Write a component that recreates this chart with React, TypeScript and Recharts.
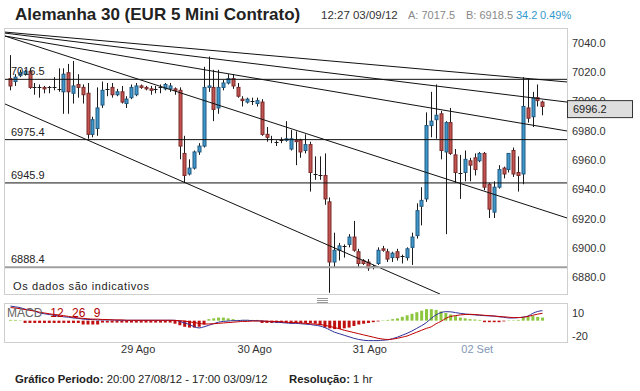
import React from "react";
import { Bar, Cell, ComposedChart, Line, ReferenceLine, XAxis, YAxis } from "recharts";

const FONT = "'Liberation Sans', Arial, sans-serif";

// hourly candles, 20:00 27/08/12 .. 17:00 03/09/12
const opens = [
  7017, 7015, 7019, 7020, 7022, 7011, 7011, 7011, 7011, 7011,
  7010, 7008, 7021, 7007, 7013, 7011, 7007, 6979, 6983, 6999,
  7010, 7011, 7006, 7008, 7000, 7004, 7006, 7012, 7011, 7010,
  7010, 7011, 7010, 7010, 7010, 7009, 6966, 6952, 6956, 6967,
  6971, 7011, 7011, 6997, 7011, 7014, 7017, 7011, 7003, 7001,
  7002, 7000, 7001, 6979, 6976, 6974, 6975, 6975, 6969, 6975,
  6975, 6968, 6972, 6952, 6951, 6951, 6933, 6892, 6900, 6903,
  6904, 6909, 6899, 6893, 6892, 6889, 6891, 6901, 6899, 6895,
  6899, 6896, 6895, 6902, 6910, 6930, 6935, 6985, 6989, 6993,
  6967, 6987, 6965, 6953, 6953, 6961, 6963, 6961, 6966, 6945,
  6926, 6943, 6956, 6955, 6968, 6953, 6952, 6997, 6991, 7004, 7001,
];
const highs = [
  7033, 7020, 7023, 7023, 7024, 7014, 7013, 7012, 7012, 7018,
  7024, 7024, 7027, 7029, 7020, 7013, 7014, 6991, 7011, 7015,
  7014, 7014, 7010, 7012, 7005, 7013, 7014, 7013, 7012, 7012,
  7012, 7013, 7014, 7014, 7011, 7011, 6978, 6962, 6968, 6973,
  7025, 7032, 7023, 7023, 7016, 7020, 7020, 7014, 7005, 7004,
  7004, 7004, 7003, 6984, 6978, 6975, 6977, 6988, 6982, 6981,
  6976, 6979, 6974, 6964, 6964, 6966, 6936, 6912, 6905, 6904,
  6911, 6920, 6901, 6894, 6894, 6890, 6902, 6903, 6901, 6899,
  6901, 6897, 6902, 6912, 6932, 6943, 6994, 7008, 7013, 6995,
  6988, 6997, 6969, 6965, 6968, 6963, 6966, 6967, 6967, 6946,
  6947, 6958, 6957, 6966, 6970, 6964, 7018, 7017, 7008, 7013, 7002,
];
const lows = [
  7009, 7012, 7018, 7019, 7010, 7006, 7004, 7007, 7007, 7009,
  7008, 6993, 6993, 7000, 7004, 7000, 6976, 6977, 6978, 6997,
  7005, 7004, 7005, 7000, 6997, 7003, 7005, 7010, 7009, 7006,
  7007, 7007, 7009, 7008, 7006, 6962, 6946, 6951, 6955, 6965,
  6970, 7008, 6988, 6993, 7009, 7013, 7010, 7004, 6998, 7000,
  6999, 6998, 6978, 6974, 6973, 6971, 6973, 6974, 6968, 6958,
  6963, 6966, 6940, 6948, 6948, 6931, 6871, 6888, 6893, 6895,
  6902, 6899, 6888, 6890, 6886, 6887, 6890, 6899, 6892, 6892,
  6893, 6891, 6893, 6890, 6908, 6917, 6933, 6977, 6976, 6962,
  6911, 6965, 6946, 6935, 6947, 6947, 6951, 6960, 6941, 6922,
  6922, 6942, 6949, 6953, 6950, 6940, 6945, 6987, 6984, 6998, 6992,
];
const closes = [
  7012, 7018, 7021, 7022, 7011, 7011, 7011.5, 7010, 7011, 7010.5,
  7010, 7020, 7008, 7012, 7011, 7006, 6979, 6989, 6997, 7009,
  7010, 7006, 7008, 7001, 7003, 7011, 7012, 7011, 7010, 7009,
  7010, 7011, 7013, 7012, 7009, 6971, 6951, 6956, 6967, 6971,
  7011, 7012, 6996, 7011, 7014, 7017, 7012, 7005, 7002, 7003,
  7002, 7002, 6979, 6977, 6975.5, 6974, 6975, 6976, 6976, 6974,
  6967, 6972, 6953, 6952, 6951, 6935, 6892, 6900, 6903, 6903,
  6909, 6900, 6891, 6891, 6888, 6889, 6900, 6900, 6894, 6898,
  6895, 6896, 6901, 6909, 6927, 6934, 6985, 6988, 6992, 6968,
  6987, 6966, 6953, 6953, 6962, 6958, 6955, 6966, 6943, 6928,
  6943, 6955, 6952, 6966, 6952, 6951, 6998, 6990, 7004, 7002, 6998,
];

// MACD 12 26 9
const macdLine = [
  19, 18, 17, 15, 14, 12.5, 10, 9, 8, 7,
  6, 5, 4.5, 3.5, 3, 2, 1.5, 1.5, 1, 1,
  1, 1, 0.5, 0.5, 0.5, 0.5, 0.5, 0.5, 0.5, 0.5,
  0.5, 0.5, 0.5, 0.5, 0.5, -1, -3, -5, -8, -9.5,
  -8, -6, -4, -2, -1, -0.5, 0, 0, 0.5, 0.5,
  0, 0, -0.5, -1, -1.5, -2, -2.5, -3, -3.5, -3.5,
  -4, -4.5, -5, -6, -7, -9, -12, -15, -17, -19,
  -21, -23, -24.5, -25.5, -26, -26, -26, -25.5, -25, -23.5,
  -21.5, -19, -16.5, -13.5, -10, -6.5, -2.5, 3, 7.5, 10.5,
  11.7, 11.5, 10.5, 9.5, 8.7, 8, 7.5, 7, 6.5, 6.2,
  6, 5, 4.5, 3.5, 3.5, 4, 4.5, 6, 9.5, 12, 13,
];
const signalLine = [
  17, 16.5, 15.5, 14.5, 13.5, 12.5, 11, 10, 9, 8,
  7.5, 6.5, 5.5, 4.5, 3.5, 3, 2.5, 2, 2, 1.5,
  1.5, 1, 1, 1, 0.5, 0.5, 0.5, 0.5, 0.5, 0.5,
  0.5, 0.5, 0.5, 0.5, 0.3, 0, -0.5, -1.5, -2.5, -3.5,
  -4.3, -4.3, -4, -3.5, -3, -2.5, -2, -1.5, -1, -1,
  -0.5, -0.5, -0.5, -0.8, -1, -1, -1.5, -2, -2.5, -2.5,
  -3, -3.5, -4, -4.5, -5, -6, -7.5, -9, -10.5, -12.5,
  -14, -15.5, -17, -18.5, -20, -21.5, -23, -24, -24.5, -24,
  -23, -21.5, -20, -17.5, -15, -12.5, -10, -8, -4, -1,
  3, 5.5, 6.5, 7.5, 8, 8.3, 8, 7.5, 7, 6.5,
  6, 5.5, 5, 4.5, 4, 4, 4.5, 5.5, 7, 8.5, 9.6,
];
const histogram = [
  1, 1, 0.5, -3, -3, -3, -3, -3, -3, -3,
  -3, -3, -3, -3, -3, -5, -5, -5, -5, -2.5,
  -2.5, -2.5, -2.5, -2.5, -2.5, -2.5, -2.5, -2.5, -2.5, -2.5,
  -2.5, -2.5, -2.5, -2.5, -4, -6, -8, -9, -9, -8,
  -5, 2, 3, 4, 4, 3, 2, 1, 1, 1,
  1, 1, -3, -3, -3, -3, -3, -3, -3, -3,
  -3, -3, -3, -4, -6, -9, -10, -11, -11, -10,
  -9, -7, -5, -4, -3, -2, -1, 0.5, 1, 2,
  3, 5, 7, 9, 11, 13, 15, 15, 14, 12,
  10, 8, 6, 4, 3, 2, 1.5, 1, -2, -2,
  -2, -2, -1, 0.5, 0.5, 1, 4, 5, 6, 5, 4,
];

const dayTicks = [26.4, 50.5, 74.3, 96.5];
const dayLabels = ["29 Ago", "30 Ago", "31 Ago", "02 Set"];
const priceTicks = [6880, 6900, 6920, 6940, 6960, 6980, 7000, 7020, 7040];
const levels = [7016.5, 6975.4, 6945.9];
const supportLevel = 6888.4;
const lastPrice = 6996.2;
const macdTicks = [-20, 10];
// [x1, price1, x2, price2]
const trendlines = [
  [-1.14, 7048.7, 115.07, 7014.7],
  [-1.14, 7048.0, 115.07, 7001.0],
  [-1.14, 7046.0, 115.07, 6981.3],
  [-1.14, 7046.0, 115.07, 6922.0],
  [-1.14, 6999.7, 88.8, 6870.2],
];

const xDomain = [-1.14, 115.07];
const priceDomain = [6870.2, 7050.8];

const candles = opens.map((o, i) => ({ i, o, h: highs[i], l: lows[i], c: closes[i], range: [lows[i], highs[i]] }));
const macdData = macdLine.map((m, i) => ({ i, macd: m, signal: signalLine[i], hist: histogram[i] }));

const Candle = (props: any) => {
  const { x, y, width, height, payload } = props;
  const top = Math.min(y, y + height);
  const bottom = Math.max(y, y + height);
  const { o, h, l, c } = payload;
  const span = h - l || 1;
  const py = (v: number) => bottom - ((v - l) / span) * (bottom - top);
  const cx = Math.round(x + width / 2) + 0.5;
  const bTop = py(Math.max(o, c));
  const bBot = py(Math.min(o, c));
  const up = c > o;
  return (
    <g>
      <line x1={cx} x2={cx} y1={top} y2={bottom} stroke="#1a1a1a" strokeWidth={1} />
      {bBot - bTop < 1.2 ? (
        <line x1={cx - 2} x2={cx + 2} y1={Math.round(bTop) + 0.5} y2={Math.round(bTop) + 0.5} stroke="#1a1a1a" />
      ) : (
        <rect
          x={cx - 1.5}
          y={bTop}
          width={3}
          height={bBot - bTop}
          fill={up ? "#3f97cc" : "#c25450"}
          stroke={up ? "#235a80" : "#7a2a2a"}
          strokeWidth={1}
        />
      )}
    </g>
  );
};

const PriceTick = (props: any) => {
  const { x, y, payload } = props;
  return (
    <text x={x} y={y - 2} dy="0.35em" fontSize={11} fill="#333" fontFamily={FONT} textAnchor="start">
      {payload.value.toFixed(1)}
    </text>
  );
};

const MacdTick = (props: any) => {
  const { x, y, payload } = props;
  return (
    <text x={x} y={y} dy="0.35em" fontSize={11} fill="#333" fontFamily={FONT} textAnchor="start">
      {payload.value}
    </text>
  );
};

const DayTick = (props: any) => {
  const { x, y, payload } = props;
  const k = dayTicks.indexOf(payload.value);
  return (
    <text x={x} y={y} dy={9} textAnchor="middle" fontSize={11} fill={k === 3 ? "#8296b8" : "#333"} fontFamily={FONT}>
      {dayLabels[k]}
    </text>
  );
};

const levelLabel = (v: number) => (p: any) => (
  <text x={p.viewBox.x + 6} y={p.viewBox.y - 4} fontSize={11} fill="#222" fontFamily={FONT}>
    {v.toFixed(1)}
  </text>
);

const priceBox = (p: any) => {
  const bx = p.viewBox.x + p.viewBox.width;
  const by = p.viewBox.y;
  return (
    <g>
      <rect x={bx + 0.5} y={by - 8.5} width={65} height={17} fill="#dedede" stroke="#333" />
      <text x={bx + 6} y={by} dy="0.35em" fontSize={11} fill="#222" fontFamily={FONT}>
        {lastPrice.toFixed(1)}
      </text>
    </g>
  );
};

const abs = (s: React.CSSProperties): React.CSSProperties => ({ position: "absolute", ...s });

export default function App() {
  return (
    <div style={abs({ left: 0, top: 0, width: 640, height: 391, background: "#fff", fontFamily: FONT, overflow: "hidden" })}>
      <div style={abs({ left: 15, top: 5, fontSize: 17, fontWeight: "bold", color: "#222", whiteSpace: "nowrap" })}>
        Alemanha 30 (EUR 5 Mini Contrato)
      </div>
      <div style={abs({ left: 321, top: 9, fontSize: 11.5, color: "#333", whiteSpace: "nowrap" })}>12:27 03/09/12</div>
      <div style={abs({ left: 408, top: 9, fontSize: 11, color: "#888", whiteSpace: "nowrap" })}>A: 7017.5</div>
      <div style={abs({ left: 466, top: 9, fontSize: 11, color: "#888", whiteSpace: "nowrap" })}>B: 6918.5</div>
      <div style={abs({ left: 516, top: 9, fontSize: 11, color: "#3399cc", whiteSpace: "nowrap" })}>34.2</div>
      <div style={abs({ left: 540, top: 9, fontSize: 11, color: "#3399cc", whiteSpace: "nowrap" })}>0.49%</div>

      <div style={abs({ left: 4, top: 28, width: 564, height: 267, border: "1px solid #cfcfcf", boxSizing: "border-box" })} />
      <div style={abs({ left: 4, top: 303, width: 564, height: 40, border: "1px solid #cfcfcf", boxSizing: "border-box" })} />
      <div style={abs({ left: 317, top: 298, width: 11, height: 1, background: "#999" })} />
      <div style={abs({ left: 317, top: 300, width: 11, height: 1, background: "#999" })} />
      <div style={abs({ left: 317, top: 302, width: 11, height: 1, background: "#999" })} />

      <div style={abs({ left: 0, top: 0 })}>
        <ComposedChart width={640} height={295} data={candles} margin={{ top: 29, right: 0, bottom: 1, left: 5 }}>
          <XAxis type="number" dataKey="i" domain={xDomain} allowDataOverflow hide />
          <YAxis
            orientation="right"
            width={73}
            domain={priceDomain}
            allowDataOverflow
            ticks={priceTicks}
            interval={0}
            axisLine={false}
            tickLine={false}
            tickSize={3}
            tickMargin={2}
            tick={<PriceTick />}
          />
          {trendlines.map((t, k) => (
            <ReferenceLine
              key={"t" + k}
              segment={[{ x: t[0], y: t[1] }, { x: t[2], y: t[3] }]}
              stroke="#111"
              strokeWidth={1}
              ifOverflow="hidden"
            />
          ))}
          {levels.map((v) => (
            <ReferenceLine key={"l" + v} y={v} stroke="#111" strokeWidth={1} label={levelLabel(v)} />
          ))}
          <ReferenceLine y={supportLevel} stroke="#a0a0a0" strokeWidth={2} label={levelLabel(supportLevel)} />
          <Bar dataKey="range" barSize={5} shape={<Candle />} isAnimationActive={false} />
        </ComposedChart>
      </div>

      {/* last price marker, drawn above the axis labels */}
      <div style={abs({ left: 0, top: 0 })}>
        <ComposedChart width={640} height={295} data={candles} margin={{ top: 29, right: 73, bottom: 1, left: 5 }}>
          <XAxis type="number" dataKey="i" domain={xDomain} allowDataOverflow hide />
          <YAxis domain={priceDomain} allowDataOverflow hide />
          <ReferenceLine y={lastPrice} stroke="none" label={priceBox} />
        </ComposedChart>
      </div>

      <div style={abs({ left: 13, top: 280, fontSize: 11, letterSpacing: 0.6, color: "#222", whiteSpace: "nowrap" })}>
        Os dados são indicativos
      </div>

      <div style={abs({ left: 0, top: 290 })}>
        <ComposedChart width={640} height={70} data={macdData} margin={{ top: 14, right: 0, bottom: 0, left: 5 }}>
          <XAxis
            type="number"
            dataKey="i"
            domain={xDomain}
            allowDataOverflow
            ticks={dayTicks}
            interval={0}
            axisLine={false}
            tickLine={false}
            tickSize={0}
            tickMargin={2}
            height={18}
            tick={<DayTick />}
          />
          <YAxis
            orientation="right"
            width={73}
            domain={[-27.8, 21.7]}
            allowDataOverflow
            ticks={macdTicks}
            interval={0}
            axisLine={false}
            tickLine={false}
            tickSize={3}
            tickMargin={2}
            tick={<MacdTick />}
          />
          <Bar dataKey="hist" barSize={3} isAnimationActive={false}>
            {macdData.map((d) => (
              <Cell key={d.i} fill={d.hist >= 0 ? "#8cc63f" : "#c01010"} />
            ))}
          </Bar>
          <Line type="monotone" dataKey="macd" stroke="#30309a" strokeWidth={1} dot={false} isAnimationActive={false} />
          <Line type="monotone" dataKey="signal" stroke="#c00000" strokeWidth={1} dot={false} isAnimationActive={false} />
        </ComposedChart>
      </div>

      <div style={abs({ left: 7, top: 306, fontSize: 12, color: "#666", whiteSpace: "nowrap" })}>
        MACD
        <span style={{ color: "#b00000", marginLeft: 8, wordSpacing: 5 }}>12 26 9</span>
      </div>

      <div style={abs({ left: 15, top: 373, fontSize: 11.3, color: "#222", whiteSpace: "nowrap" })}>
        <b>Gráfico Periodo:</b> 20:00 27/08/12 - 17:00 03/09/12
      </div>
      <div style={abs({ left: 289, top: 373, fontSize: 11.3, color: "#222", whiteSpace: "nowrap" })}>
        <b>Resolução:</b> 1 hr
      </div>
    </div>
  );
}
